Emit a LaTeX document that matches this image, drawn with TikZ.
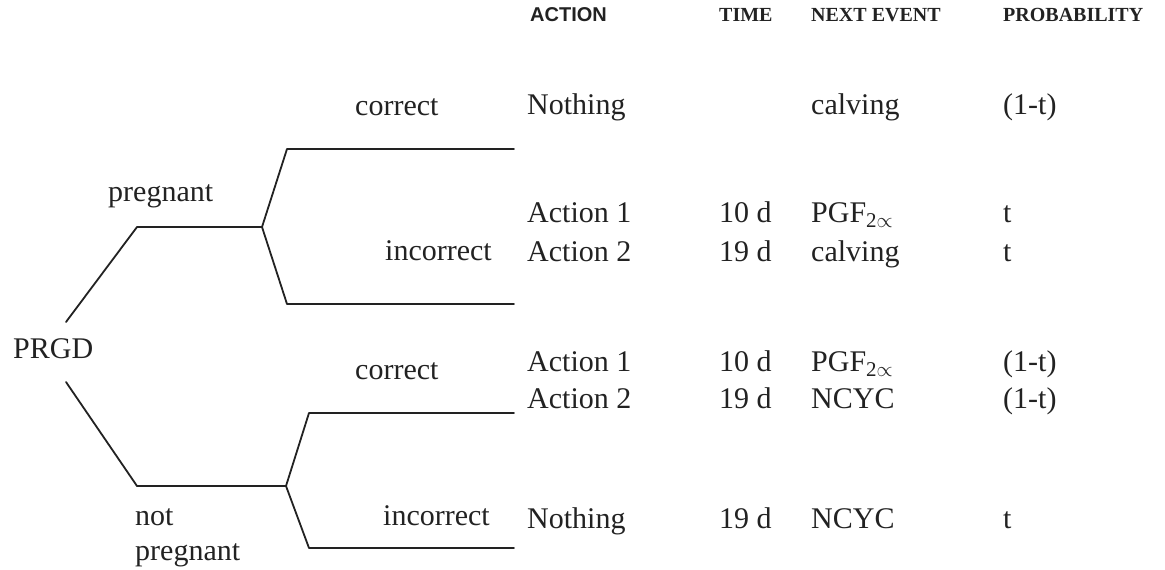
\documentclass[tikz,border=0pt]{standalone}
\usepackage{fontspec}
\setmainfont{Liberation Serif}
\newfontfamily\hdsans{Liberation Sans}
\definecolor{ink}{HTML}{222222}
\begin{document}
\begin{tikzpicture}[x=1pt,y=-1pt,
  txt/.style={anchor=base west,inner sep=0pt,font=\fontsize{30}{36}\selectfont,text=ink},
  txtr/.style={txt,anchor=base east},
  hdr/.style={anchor=base west,inner sep=0pt,font=\fontsize{20}{24}\selectfont\bfseries,text=ink},
  branch/.style={draw=ink,line width=1.8pt,line join=round,line cap=round}]
\useasboundingbox (0,0) rectangle (1165,570);

% headers
\node[hdr,font=\fontsize{20}{24}\selectfont\hdsans\bfseries] (hAct) at (530,21) {ACTION};
\node[hdr] (hTime) at (719,21) {TIME};
\node[hdr] (hNext) at (811,21) {NEXT EVENT};
\node[hdr] (hProb) at (1003,21) {PROBABILITY};

% tree
\coordinate (r1) at (66,322);
\coordinate (p1) at (137,227);
\coordinate (f1) at (262,227);
\coordinate (a1) at (287,149);
\coordinate (a1e) at (514,149);
\coordinate (b1) at (287,304);
\coordinate (b1e) at (514,304);
\coordinate (r2) at (66,382);
\coordinate (p2) at (137,486);
\coordinate (f2) at (286,486);
\coordinate (a2) at (309,413);
\coordinate (a2e) at (514,413);
\coordinate (b2) at (309,548);
\coordinate (b2e) at (514,548);

\draw[branch] (r1) -- (p1) -- (f1) -- (a1) -- (a1e);
\draw[branch] (f1) -- (b1) -- (b1e);
\draw[branch] (r2) -- (p2) -- (f2) -- (a2) -- (a2e);
\draw[branch] (f2) -- (b2) -- (b2e);

% tree labels
\node[txt] (prgd) at (13,358) {PRGD};
\node[txt] (preg) at (108,201) {pregnant};
\node[txt] (notp) at (135,525) {not};
\node[txt] (notp2) at (135,560) {pregnant};
\node[txt] (c1) at (355,115) {correct};
\node[txtr] (i1) at (492,260) {incorrect};
\node[txt] (c2) at (355,379) {correct};
\node[txtr] (i2) at (490,525) {incorrect};

% table rows
\node[txt] (n1a) at (527,114) {Nothing};
\node[txt] (n1e) at (811,114) {calving};
\node[txt] (n1p) at (1003,114) {(1-t)};

\node[txt] (n2a) at (527,222) {Action 1};
\node[txt] (n2t) at (719,222) {10 d};
\node[txt] (n2e) at (811,222) {PGF\textsubscript{2$\propto$}};
\node[txt] (n2p) at (1003,222) {t};

\node[txt] (n3a) at (527,261) {Action 2};
\node[txt] (n3t) at (719,261) {19 d};
\node[txt] (n3e) at (811,261) {calving};
\node[txt] (n3p) at (1003,261) {t};

\node[txt] (n4a) at (527,371) {Action 1};
\node[txt] (n4t) at (719,371) {10 d};
\node[txt] (n4e) at (811,371) {PGF\textsubscript{2$\propto$}};
\node[txt] (n4p) at (1003,371) {(1-t)};

\node[txt] (n5a) at (527,408) {Action 2};
\node[txt] (n5t) at (719,408) {19 d};
\node[txt] (n5e) at (811,408) {NCYC};
\node[txt] (n5p) at (1003,408) {(1-t)};

\node[txt] (n6a) at (527,528) {Nothing};
\node[txt] (n6t) at (719,528) {19 d};
\node[txt] (n6e) at (811,528) {NCYC};
\node[txt] (n6p) at (1003,528) {t};
\end{tikzpicture}
\end{document}
